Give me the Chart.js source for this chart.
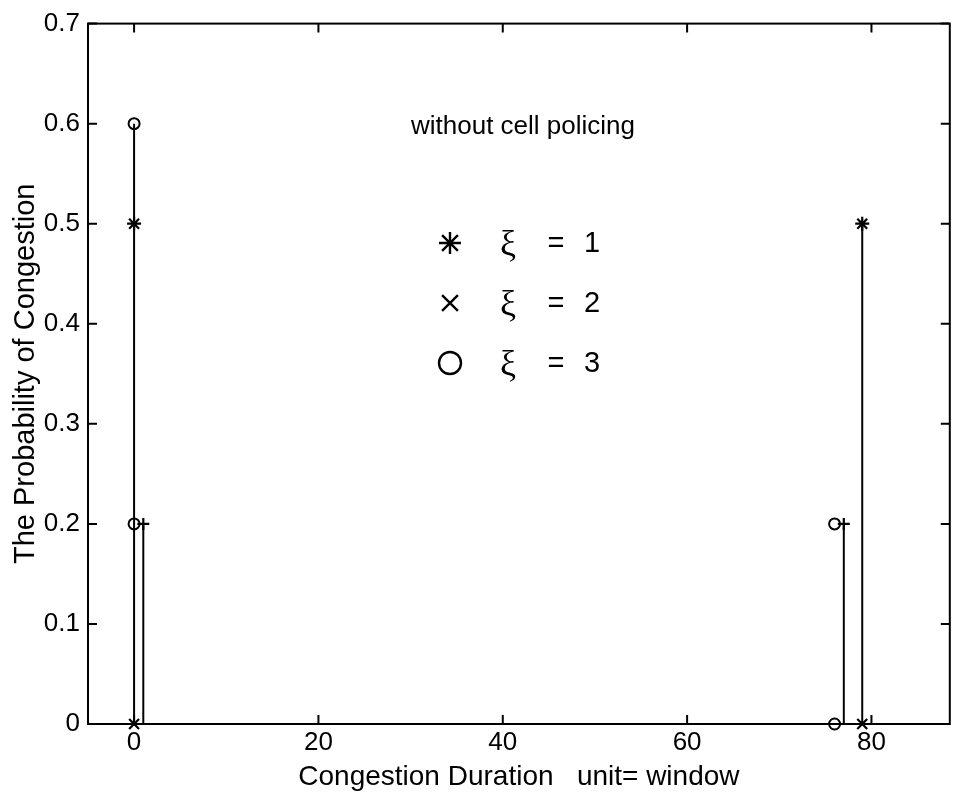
<!DOCTYPE html>
<html>
<head>
<meta charset="utf-8">
<script src="https://cdn.jsdelivr.net/npm/chart.js@4/dist/chart.umd.min.js"></script>
<style>
  html, body { margin: 0; padding: 0; background: #fff; }
  #wrap { width: 959px; height: 792px; position: relative; }
</style>
</head>
<body>
<div id="wrap"><canvas id="myChart"></canvas></div>
<script>
// values
const xTickValues = [0, 20, 40, 60, 80];
const yTickValues = [0, 0.1, 0.2, 0.3, 0.4, 0.5, 0.6, 0.7];

const xi1X = [0, 79];          // '*'  xi = 1
const xi1Y = [0.5, 0.5];
const xi2X = [0, 79];          // 'x'  xi = 2
const xi2Y = [0, 0];
const xi3X = [0, 0, 76, 76];   // 'o'  xi = 3
const xi3Y = [0.6, 0.2, 0.2, 0];
const plusX = [1, 77];         // '+' marks at the short stems
const plusY = [0.2, 0.2];

const stemX = [0, 1, 77, 79];
const stemY = [0.6, 0.2, 0.2, 0.5];

const legendLabels = ['ξ', 'ξ', 'ξ'];
const legendValues = ['1', '2', '3'];
const noteText = 'without cell policing';

function pts(xs, ys) {
  return xs.map((x, i) => ({ x: x, y: ys[i] }));
}

// stems as separate vertical segments broken by gaps
const stemData = [];
stemX.forEach((x, i) => {
  stemData.push({ x: x, y: 0 }, { x: x, y: stemY[i] }, { x: x, y: null });
});

const sans = "'Liberation Sans', Arial, sans-serif";
const serif = "'Liberation Serif', 'DejaVu Serif', serif";

function drawMarker(ctx, style, x, y, r) {
  ctx.beginPath();
  if (style === 'circle') {
    ctx.arc(x, y, r, 0, Math.PI * 2);
  } else {
    if (style === 'star' || style === 'cross') {
      ctx.moveTo(x - r, y); ctx.lineTo(x + r, y);
      ctx.moveTo(x, y - r); ctx.lineTo(x, y + r);
    }
    if (style === 'star' || style === 'crossRot') {
      const d = r * 0.72;
      ctx.moveTo(x - d, y - d); ctx.lineTo(x + d, y + d);
      ctx.moveTo(x - d, y + d); ctx.lineTo(x + d, y - d);
    }
  }
  ctx.stroke();
}

const framePlugin = {
  id: 'frame',
  afterDraw(chart) {
    const ctx = chart.ctx;
    const a = chart.chartArea;
    const xs = chart.scales.x, ys = chart.scales.y;
    ctx.save();
    ctx.strokeStyle = '#000';
    ctx.lineWidth = 2;
    ctx.strokeRect(a.left, a.top, a.right - a.left, a.bottom - a.top);
    // inward ticks on all four sides
    ctx.beginPath();
    xTickValues.forEach(v => {
      const px = xs.getPixelForValue(v);
      ctx.moveTo(px, a.bottom); ctx.lineTo(px, a.bottom - 9);
      ctx.moveTo(px, a.top); ctx.lineTo(px, a.top + 9);
    });
    yTickValues.forEach(v => {
      const py = ys.getPixelForValue(v);
      ctx.moveTo(a.left, py); ctx.lineTo(a.left + 9, py);
      ctx.moveTo(a.right, py); ctx.lineTo(a.right - 9, py);
    });
    ctx.stroke();

    // note text
    ctx.fillStyle = '#000';
    ctx.font = '26px ' + sans;
    ctx.textAlign = 'left';
    ctx.textBaseline = 'alphabetic';
    ctx.fillText(noteText, 411, 134);

    // legend block
    const styles = ['star', 'crossRot', 'circle'];
    const rowY = [243, 303, 363];
    ctx.lineWidth = 2.4;
    styles.forEach((s, i) => {
      drawMarker(ctx, s, 450, rowY[i], 11);
      ctx.textBaseline = 'middle';
      ctx.textAlign = 'center';
      ctx.font = '36px ' + serif;
      ctx.fillText(legendLabels[i], 508, rowY[i] + 3);
      ctx.font = '29px ' + sans;
      ctx.fillText('=', 556, rowY[i] + 1);
      ctx.fillText(legendValues[i], 592, rowY[i] + 1);
    });
    ctx.restore();
  }
};

const canvas = document.getElementById('myChart');
const ctx = canvas.getContext('2d');

const myChart = new Chart(ctx, {
  type: 'scatter',
  data: {
    datasets: [
      {
        label: 'stems',
        type: 'line',
        data: stemData,
        borderColor: '#000',
        borderWidth: 2,
        pointRadius: 0,
        spanGaps: false,
        tension: 0
      },
      {
        label: 'ξ = 1',
        data: pts(xi1X, xi1Y),
        pointStyle: 'star',
        pointRadius: 7,
        borderColor: '#000',
        backgroundColor: '#000',
        pointBorderWidth: 2.2,
        clip: false
      },
      {
        label: 'ξ = 2',
        data: pts(xi2X, xi2Y),
        pointStyle: 'crossRot',
        pointRadius: 7,
        borderColor: '#000',
        pointBorderWidth: 2.2,
        clip: false
      },
      {
        label: '+',
        data: pts(plusX, plusY),
        pointStyle: 'cross',
        pointRadius: 6,
        borderColor: '#000',
        pointBorderWidth: 2.2,
        clip: false
      },
      {
        label: 'ξ = 3',
        data: pts(xi3X, xi3Y),
        pointStyle: 'circle',
        pointRadius: 5.5,
        borderColor: '#000',
        backgroundColor: 'rgba(0,0,0,0)',
        pointBorderWidth: 2,
        clip: false
      }
    ]
  },
  options: {
    responsive: true,
    maintainAspectRatio: false,
    animation: false,
    layout: { padding: { top: 20, right: 6, left: 0, bottom: 0 } },
    plugins: {
      legend: { display: false },
      tooltip: { enabled: false }
    },
    scales: {
      x: {
        type: 'linear',
        min: -5,
        max: 88.5,
        afterBuildTicks: s => { s.ticks = xTickValues.map(v => ({ value: v })); },
        afterFit: s => { s.height = 68; },
        grid: { drawOnChartArea: false, drawTicks: false },
        border: { display: false },
        ticks: {
          color: '#000',
          padding: 3,
          maxRotation: 0,
          font: { family: sans, size: 26 },
          callback: v => String(v)
        },
        title: {
          display: true,
          text: 'Congestion Duration   unit= window',
          color: '#000',
          font: { family: sans, size: 28, lineHeight: 1 },
          padding: { top: 0, bottom: 1 }
        }
      },
      y: {
        min: 0,
        max: 0.7,
        afterBuildTicks: s => { s.ticks = yTickValues.map(v => ({ value: v })); },
        afterFit: s => { s.width = 88; },
        grid: { drawOnChartArea: false, drawTicks: false },
        border: { display: false },
        ticks: {
          color: '#000',
          padding: 8,
          font: { family: sans, size: 26 },
          callback: v => (v === 0 ? '0' : v.toFixed(1))
        },
        title: {
          display: true,
          text: 'The Probability of Congestion',
          color: '#000',
          font: { family: sans, size: 29, lineHeight: 1 },
          padding: { top: 11, bottom: 0 }
        }
      }
    }
  },
  plugins: [framePlugin]
});
</script>
</body>
</html>
